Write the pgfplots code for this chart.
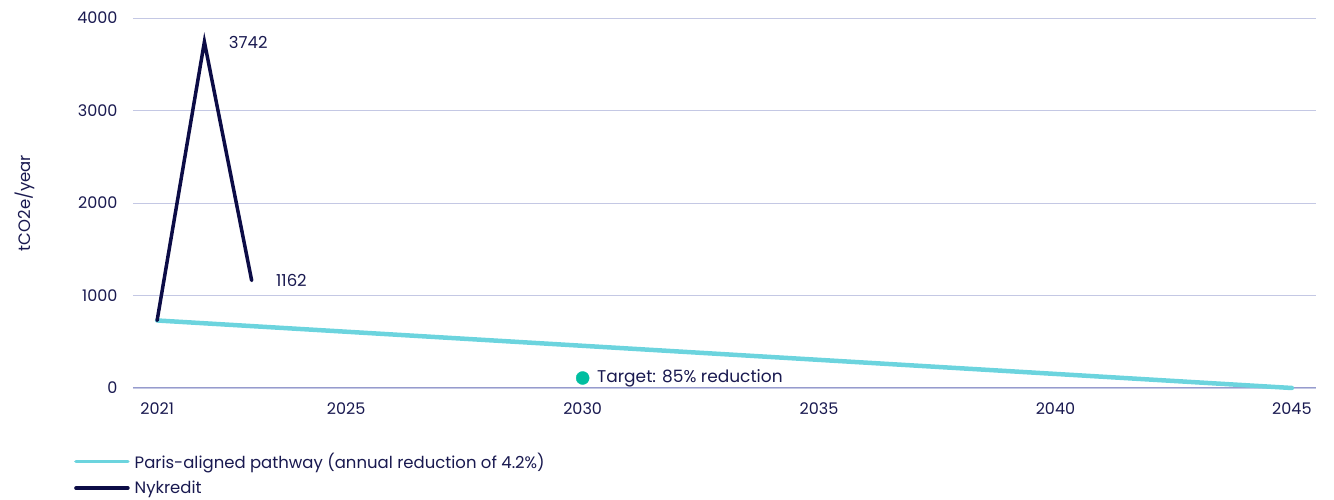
\documentclass[border=0pt]{standalone}
\usepackage{pgfplots}
\pgfplotsset{compat=1.18}
\usepackage{fontspec}
\setmainfont{Poppins}
\definecolor{navy}{RGB}{12,12,70}
\definecolor{txt}{RGB}{25,25,80}
\definecolor{paris}{RGB}{108,212,222}
\definecolor{gridc}{RGB}{196,200,228}
\definecolor{axisc}{RGB}{150,155,205}
\definecolor{target}{RGB}{0,190,160}
\begin{document}
\begin{tikzpicture}
\path[use as bounding box] (0,0) rectangle (1334pt,500pt);
\begin{axis}[
  at={(133pt,112pt)}, anchor=south west,
  width=1183pt, height=370pt, scale only axis,
  xmin=2020.49, xmax=2045.51,
  ymin=0, ymax=4000,
  clip=false,
  axis lines*=left,
  x axis line style={color=axisc, line width=1pt, -},
  y axis line style={draw=none},
  ymajorgrids, grid style={color=gridc, line width=0.9pt},
  major tick length=0pt,
  xtick={2021,2025,2030,2035,2040,2045},
  ytick={0,1000,2000,3000,4000},
  /pgf/number format/1000 sep={},
  /pgf/number format/assume math mode=true,
  ticklabel style={font=\fontsize{16}{19}\selectfont, text=txt},
  xticklabel style={yshift=-11pt},
  yticklabel style={xshift=-12pt},
  ylabel={tCO2e/year},
  ylabel style={font=\fontsize{16.5}{19}\selectfont, text=txt, at={(-95pt,0.5)}, anchor=south},
  legend style={at={(-59pt,-63pt)}, anchor=north west, draw=none, fill=none,
    font=\fontsize{16.5}{19}\selectfont, text=txt, row sep=7pt, inner sep=0pt,
    /tikz/every even column/.append style={column sep=0pt}},
  legend cell align=left,
  legend image code/.code={\draw[#1, line width=3.5pt, line cap=round] (0pt,0pt) -- (52pt,0pt);},
]
\addplot[paris, line width=4.5pt, line cap=round] coordinates {(2021,730) (2045,0)};
\addlegendentry{\hspace{3pt}Paris-aligned pathway (annual reduction of 4.2\%)}
\addplot[navy, line width=3.5pt, line join=miter, line cap=round] coordinates {(2021,730) (2022,3742) (2023,1162)};
\addlegendentry{\hspace{3pt}Nykredit}
\addplot[only marks, mark=*, mark size=6.5pt, color=target, forget plot] coordinates {(2030,108)};
\node[anchor=west, text=txt, font=\fontsize{16.5}{19}\selectfont] at (axis cs:2022,3742) [xshift=21pt,yshift=-1pt] {3742};
\node[anchor=west, text=txt, font=\fontsize{16.5}{19}\selectfont] at (axis cs:2023,1162) [xshift=21pt] {1162};
\node[anchor=west, text=txt, font=\fontsize{17}{19}\selectfont] at (axis cs:2030,108) [xshift=11pt] {Target: 85\% reduction};
\end{axis}
\end{tikzpicture}
\end{document}
